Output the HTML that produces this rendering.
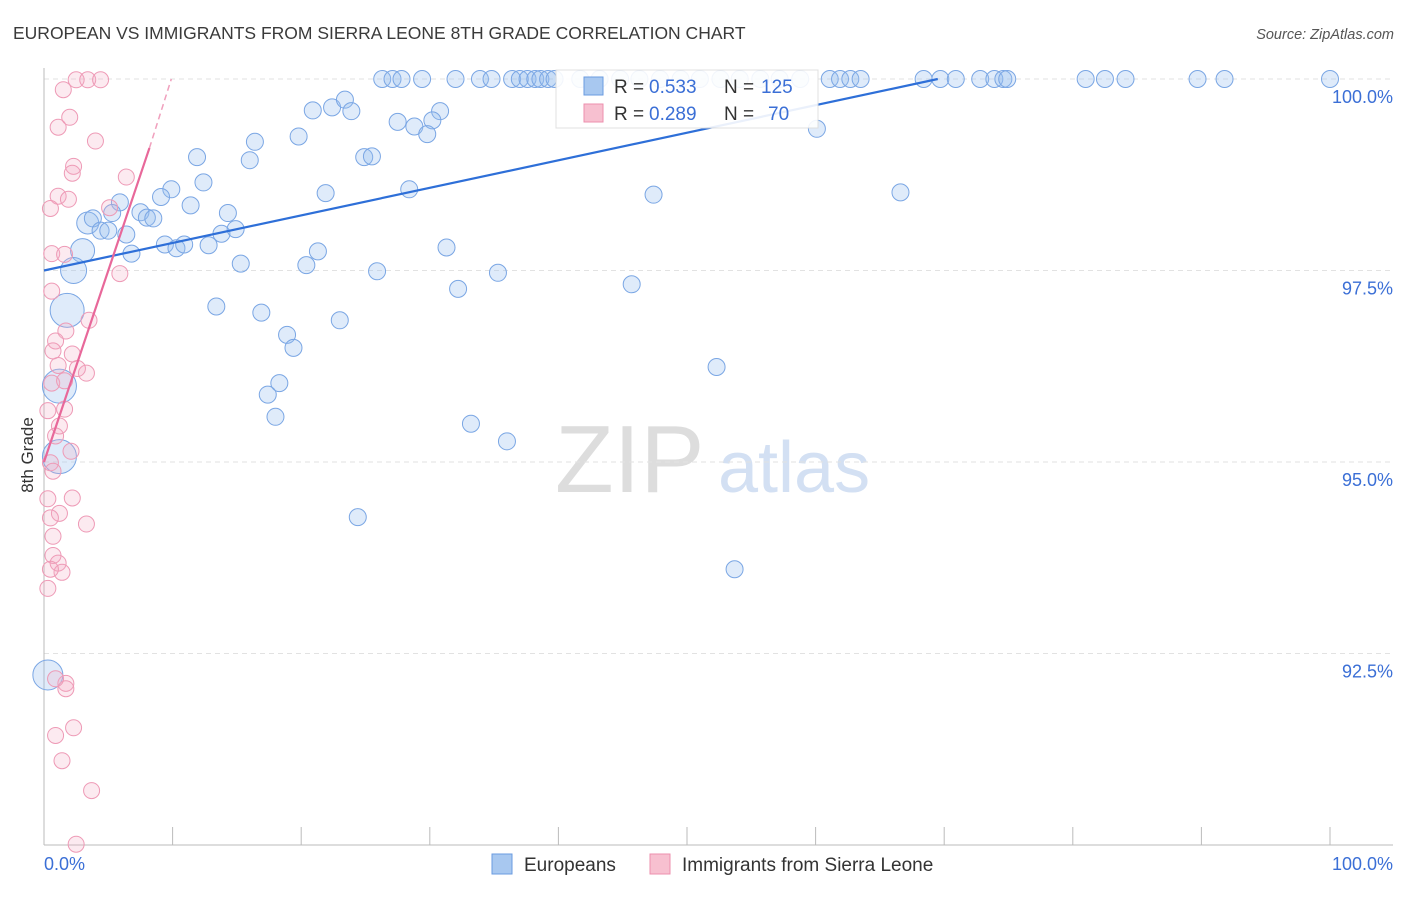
<!DOCTYPE html>
<html><head><meta charset="utf-8"><style>
body{margin:0;background:#fff;font-family:"Liberation Sans",sans-serif}
svg text{font-family:"Liberation Sans",sans-serif}
</style></head><body>
<svg id="c" width="1406" height="892">
<text x="13" y="39" font-size="17.5" fill="#3a3a3a">EUROPEAN VS IMMIGRANTS FROM SIERRA LEONE 8TH GRADE CORRELATION CHART</text>
<text x="1394" y="39" font-size="14.5" fill="#555" font-style="italic" text-anchor="end">Source: ZipAtlas.com</text>
<text x="33" y="455" font-size="17" fill="#333" transform="rotate(-90 33 455)" text-anchor="middle">8th Grade</text>
<text x="555" y="492" font-size="96" fill="#ddd" font-family="Liberation Serif">ZIP</text>
<text x="718" y="492" font-size="72" fill="#d3e0f3">atlas</text>
<g id="grid"></g><g id="marks"></g>
<g>
<rect x="556" y="70" width="262" height="58" fill="#fff" stroke="#ddd" opacity="0.9"/>
<rect x="584" y="77" width="19" height="18" fill="#a8c8f0" stroke="#6a9be0"/>
<rect x="584" y="104" width="19" height="18" fill="#f7c0d0" stroke="#ec8fae"/>
<text x="614" y="93" font-size="19" fill="#333">R =</text>
<text x="649" y="93" font-size="19" fill="#3b6fd6">0.533</text>
<text x="724" y="93" font-size="19" fill="#333">N =</text>
<text x="761" y="93" font-size="19" fill="#3b6fd6">125</text>
<text x="614" y="120" font-size="19" fill="#333">R =</text>
<text x="649" y="120" font-size="19" fill="#3b6fd6">0.289</text>
<text x="724" y="120" font-size="19" fill="#333">N =</text>
<text x="768" y="120" font-size="19" fill="#3b6fd6">70</text>
</g>
<g>
<rect x="492" y="854" width="20" height="20" fill="#a8c8f0" stroke="#6a9be0"/>
<text x="524" y="871" font-size="19" fill="#333">Europeans</text>
<rect x="650" y="854" width="20" height="20" fill="#f7c0d0" stroke="#ec8fae"/>
<text x="682" y="871" font-size="19" fill="#333">Immigrants from Sierra Leone</text>
</g>
</svg>
<script>
const blueX=[26.3,27.1,27.8,29.4,32.0,33.9,34.8,36.4,37.0,37.6,38.2,38.6,39.2,39.7,41.7,43.2,44.8,46.3,47.9,49.5,51.0,52.6,54.1,55.7,57.2,58.8,61.1,61.9,62.7,63.5,68.4,69.7,70.9,72.8,73.9,74.6,74.9,81.0,82.5,84.1,89.7,91.8,100,
22.4,23.4,23.9,20.9,30.8,30.2,27.5,28.8,29.8,19.8,16.4,11.9,16.0,24.9,25.5,60.1,47.4,66.6,28.4,21.9,12.4,9.9,9.1,5.9,5.3,11.4,7.5,8.0,8.5,14.3,3.4,3.8,4.4,5.0,6.4,13.8,14.9,3.0,6.8,9.4,10.3,10.9,12.8,21.3,31.3,20.4,15.3,25.9,35.3,45.7,32.2,2.3,1.8,13.4,16.9,23.0,18.9,19.4,52.3,18.3,17.4,18.0,1.2,33.2,36.0,1.2,24.4,53.7,0.3];
const blueY=[100,100,100,100,100,100,100,100,100,100,100,100,100,100,100,100,100,100,100,100,100,100,100,100,100,100,100,100,100,100,100,100,100,100,100,100,100,100,100,100,100,100,100,
99.63,99.73,99.58,99.59,99.58,99.46,99.44,99.38,99.28,99.25,99.18,98.98,98.94,98.98,98.99,99.35,98.49,98.52,98.56,98.51,98.65,98.56,98.46,98.39,98.25,98.35,98.26,98.19,98.18,98.25,98.12,98.18,98.02,98.02,97.97,97.98,98.04,97.76,97.72,97.84,97.79,97.84,97.83,97.75,97.80,97.57,97.59,97.49,97.47,97.32,97.26,97.50,96.98,97.03,96.95,96.85,96.66,96.49,96.24,96.03,95.88,95.59,95.99,95.50,95.27,95.07,94.28,93.60,92.22];
const blueBig={"3.0":12,"2.3":13,"1.8":17,"1.2":17,"0.3":15,"3.4":11};
const pinkX=[2.5,3.4,4.4,1.5,2.0,1.1,4.0,2.3,2.2,6.4,1.1,1.9,0.5,5.1,0.6,1.6,5.9,0.6,3.5,1.7,0.9,0.7,2.2,1.1,3.3,2.6,0.6,1.6,1.6,0.3,1.2,0.9,2.1,0.5,0.7,2.2,0.3,1.2,0.5,3.3,0.7,0.7,1.1,1.4,0.5,0.3,1.7,1.7,0.9,2.3,0.9,1.4,3.7,2.5];
const pinkY=[99.99,99.99,99.99,99.86,99.50,99.37,99.19,98.86,98.77,98.72,98.47,98.43,98.31,98.32,97.72,97.71,97.46,97.23,96.85,96.71,96.58,96.45,96.41,96.26,96.16,96.22,96.03,96.06,95.69,95.67,95.47,95.34,95.14,94.99,94.88,94.53,94.52,94.33,94.27,94.19,94.03,93.78,93.68,93.56,93.60,93.35,92.11,92.04,92.17,91.53,91.43,91.10,90.71,90.01];
const yTicks=[100,97.5,95,92.5];
const yTickLabels=["100.0%","97.5%","95.0%","92.5%"];
const blueTrend=[[0,97.5],[69.5,100]];
const pinkTrend=[[0,95.0],[8.2,99.1]];
const pinkDash=[[8.2,99.1],[9.9,100]];
const X=v=>44+v*12.86, Y=v=>79+(100-v)*76.6;
const NS="http://www.w3.org/2000/svg";
function mk(t,a,p){const e=document.createElementNS(NS,t);for(const k in a)e.setAttribute(k,a[k]);p.appendChild(e);return e;}
const g=document.getElementById('grid'),m=document.getElementById('marks');
yTicks.forEach((t,i)=>{
 const l=mk('line',{x1:44,x2:1393,y1:Y(t),y2:Y(t),stroke:'#e2e2e2','stroke-dasharray':'5,4'},g);
 
 
 const tx=mk('text',{x:1393,y:Y(t)+24,'font-size':18,fill:'#3b6fd6','text-anchor':'end'},g);tx.textContent=yTickLabels[i];
 
 
});
mk('line',{x1:44,x2:44,y1:68,y2:845,stroke:'#bbb'},g);
mk('line',{x1:44,x2:1393,y1:845,y2:845,stroke:'#bbb'},g);
for(let i=0;i<=10;i++){const t=mk('line',{x1:X(i*10),x2:X(i*10),y1:827,y2:845,stroke:'#bbb'},g);
 
 }
let a=mk('text',{x:44,y:870,'font-size':18,fill:'#3b6fd6'},g);a.textContent='0.0%';


a=mk('text',{x:1393,y:870,'font-size':18,fill:'#3b6fd6','text-anchor':'end'},g);a.textContent='100.0%';


blueX.forEach((x,i)=>{const r=blueBig[x.toFixed(1)]&&blueY[i]<98.2?blueBig[x.toFixed(1)]:8.5;
 const c=mk('circle',{cx:X(x),cy:Y(blueY[i]),r:r,fill:'rgba(150,188,238,0.3)',stroke:'#7aa6e4','stroke-width':1},m);
 
 });
pinkX.forEach((x,i)=>{const c=mk('circle',{cx:X(x),cy:Y(pinkY[i]),r:8,fill:'rgba(245,170,195,0.25)',stroke:'#ee9ab6','stroke-width':1},m);
 
 });
let l=mk('line',{x1:X(blueTrend[0][0]),y1:Y(blueTrend[0][1]),x2:X(blueTrend[1][0]),y2:Y(blueTrend[1][1]),stroke:'#2e6fd8','stroke-width':2.2},m);


l=mk('line',{x1:X(pinkTrend[0][0]),y1:Y(pinkTrend[0][1]),x2:X(pinkTrend[1][0]),y2:Y(pinkTrend[1][1]),stroke:'#e8689a','stroke-width':2.2},m);


l=mk('line',{x1:X(pinkDash[0][0]),y1:Y(pinkDash[0][1]),x2:X(pinkDash[1][0]),y2:Y(pinkDash[1][1]),stroke:'#f0a0bd','stroke-width':1.5,'stroke-dasharray':'6,4'},m);


</script>
</body></html>
